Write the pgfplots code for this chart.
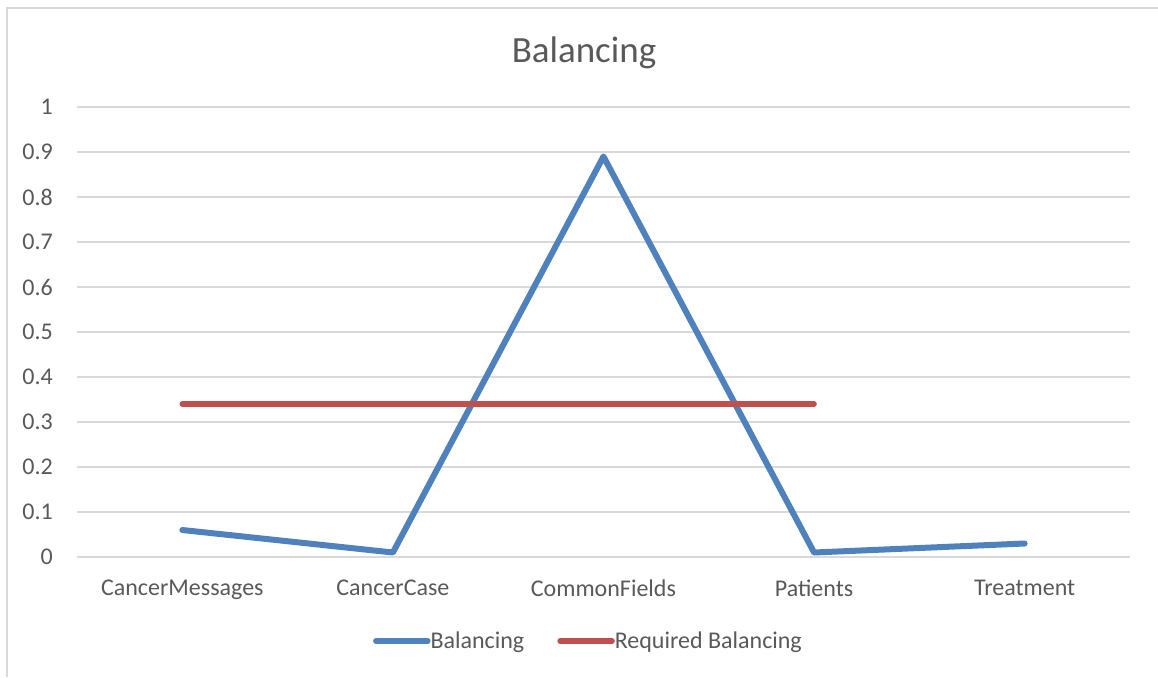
\documentclass[border=0pt]{standalone}
\usepackage{fontspec}
\setmainfont{Carlito}
\usepackage{pgfplots}
\pgfplotsset{compat=1.18}
\definecolor{txtgray}{HTML}{595959}
\definecolor{gridgray}{HTML}{D9D9D9}
\definecolor{balblue}{HTML}{4F81BD}
\definecolor{reqred}{HTML}{C0504D}

\begin{document}
\begin{tikzpicture}[x=1pt,y=1pt]
\useasboundingbox (0,0) rectangle (1158,-677);
% chart frame
\draw[gridgray, line width=1.5pt] (7,-677) -- (7,-8) -- (1158,-8);
% chart title
\node[txtgray, font=\fontsize{37}{44}\selectfont] at (584,-53) {Balancing};
\begin{axis}[
  at={(77pt,-557pt)}, anchor=south west,
  scale only axis, width=1053pt, height=450pt,
  xmin=-0.5, xmax=4.5, ymin=0, ymax=1,
  clip=false,
  axis line style={draw=none},
  tick style={draw=none},
  major tick length=0pt,
  ymajorgrids,
  grid style={gridgray, line width=1.7pt},
  xtick={0,1,2,3,4},
  xticklabels={CancerMessages,CancerCase,CommonFields,Patients,Treatment},
  ytick={0,0.1,0.2,0.3,0.4,0.5,0.6,0.7,0.8,0.9,1},
  yticklabels={0,0.1,0.2,0.3,0.4,0.5,0.6,0.7,0.8,0.9,1},
  ticklabel style={font=\fontsize{24}{29}\selectfont, text=txtgray, inner sep=0pt},
  yticklabel style={anchor=east, xshift=-24pt},
  xticklabel style={anchor=north, yshift=-23pt},
  legend columns=2,
  legend style={at={(0.4848,-0.1867)}, anchor=center, draw=none, fill=none,
    font=\fontsize{24}{29}\selectfont, text=txtgray,
    nodes={inner sep=0pt},
    /tikz/every even column/.append style={column sep=33pt}},
  legend image code/.code={\draw[#1, line width=5.5pt, line cap=round] (2pt,0pt) -- (54pt,0pt);},
]
\addplot[balblue, line width=6pt, line join=round, line cap=round]
  coordinates {(0,0.06) (1,0.01) (2,0.89) (3,0.01) (4,0.03)};
\addplot[reqred, line width=5.5pt, line cap=round]
  coordinates {(0,0.34) (1,0.34) (2,0.34) (3,0.34)};
\legend{Balancing, Required Balancing}
\end{axis}
\end{tikzpicture}
\end{document}
